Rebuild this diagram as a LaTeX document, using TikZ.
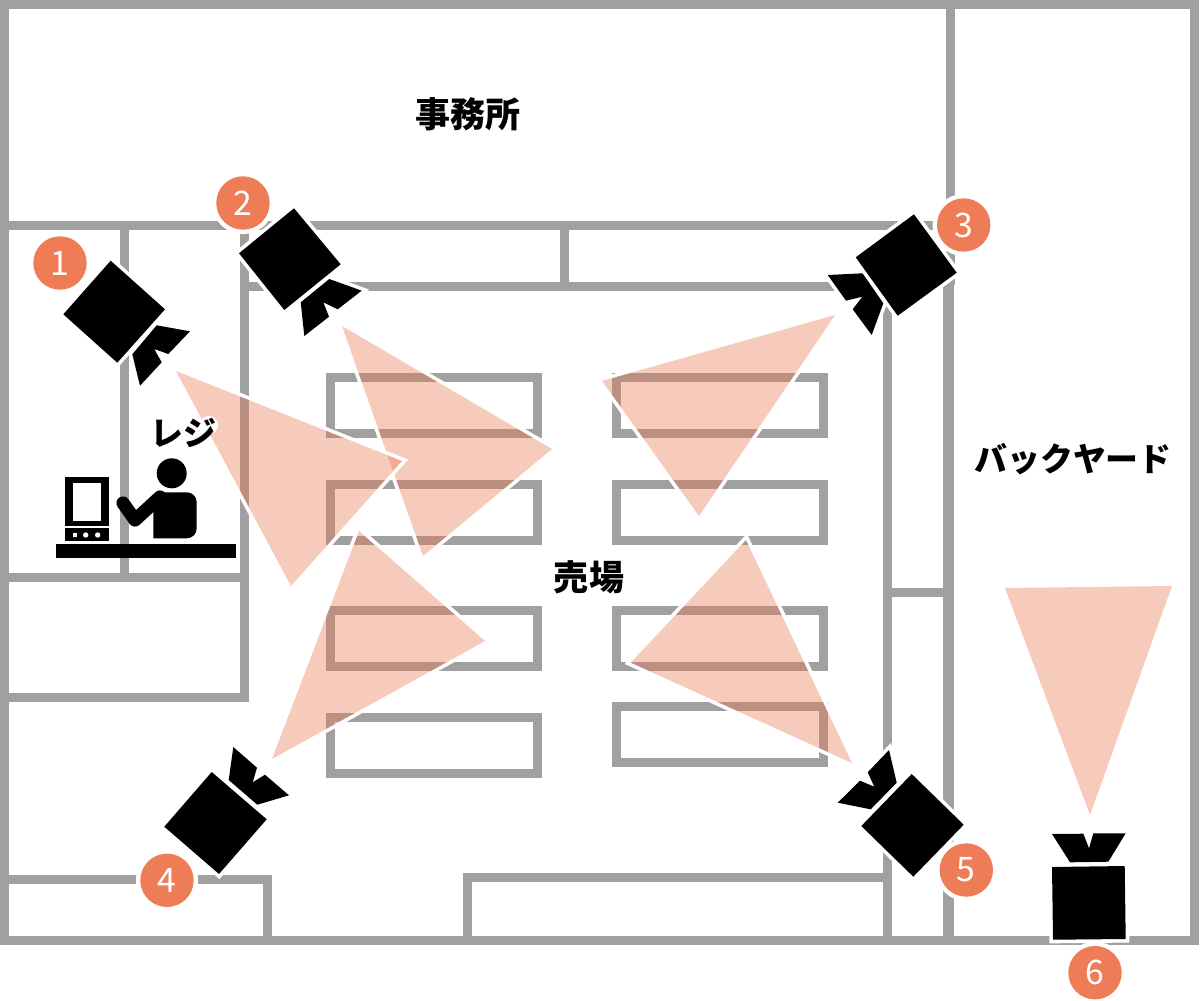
\documentclass[tikz,border=0pt]{standalone}
\usepackage{fontspec}
\usepackage{xcolor}
\newfontfamily\jpfont{Noto Sans CJK JP}
\usetikzlibrary{positioning}
\definecolor{WallGray}{HTML}{A0A0A0}
\definecolor{Badge}{HTML}{EE7D57}
\definecolor{Cone}{HTML}{EA764C}
\tikzset{
  wall/.style={line width=0.225cm, color=WallGray, line cap=rect},
  shelf/.style={line width=0.225cm, draw=WallGray},
  conehalo/.style={draw=white, line width=0.18cm, miter limit=10},
  cone/.style={fill=Cone, fill opacity=0.38},
  camera/.style={fill=black, preaction={draw=white, line width=0.18cm, miter limit=10}},
  ink/.style={fill=black},
  badge/.style={circle, fill=Badge, text=white, inner sep=0pt, minimum size=1.335cm,
    font=\jpfont\fontsize{24}{28}\selectfont, preaction={draw=white, line width=0.22cm}},
  place/.style={text=black, inner sep=0pt, font=\jpfont\bfseries\fontsize{24.9}{30}\selectfont},
  kana/.style={text=black, inner sep=0pt, font=\jpfont\bfseries\fontsize{23.4}{28}\selectfont},
}
% halo on the outside only, then the see-through fill
\newcommand{\viewcone}[3]{
  \begin{scope}[even odd rule]
    \clip (-50,-50) rectangle (1250,1050) #1 -- #2 -- #3 -- cycle;
    \draw[conehalo] #1 -- #2 -- #3 -- cycle;
  \end{scope}
  \fill[cone] #1 -- #2 -- #3 -- cycle;
}

\begin{document}
\begin{tikzpicture}[x=0.025cm, y=-0.025cm]
  \useasboundingbox (0,0) rectangle (1200,1000);

  % walls
  \draw[wall] (4,4) rectangle (1194.5,940.5);
  \draw[wall] (4,225.5) -- (950.5,225.5);
  \draw[wall] (950.5,4) -- (950.5,280);
  \draw[wall, line width=0.275cm] (948.5,289) -- (948.5,935);
  \draw[wall] (124.5,225.5) -- (124.5,577);
  \draw[wall] (244.7,225.5) -- (244.7,697.5);
  \draw[wall] (4,577) -- (244.7,577);
  \draw[wall] (4,697.5) -- (244.7,697.5);
  \draw[wall] (244.7,286) -- (887.5,286);
  \draw[wall] (564,225.5) -- (564,286);
  \draw[wall] (887.5,286) -- (887.5,940);
  \draw[wall] (887.5,592) -- (948.5,592);
  \draw[wall] (4,879.5) -- (267.5,879.5) -- (267.5,940);
  \draw[wall] (467.5,940) -- (467.5,877.5) -- (887.5,877.5);

  % shelves
  \draw[shelf] (330.5,377.5) rectangle (537.5,433.5);
  \draw[shelf] (330.5,484.5) rectangle (537.5,540.5);
  \draw[shelf] (330.5,610.5) rectangle (537.5,666.5);
  \draw[shelf] (330.5,717.5) rectangle (537.5,773.5);
  \draw[shelf] (616.5,377.5) rectangle (823.5,433.5);
  \draw[shelf] (616.5,484.5) rectangle (823.5,540.5);
  \draw[shelf] (616.5,610.5) rectangle (823.5,666.5);
  \draw[shelf] (616.5,706.5) rectangle (823.5,762.5);

  % view cones
  \viewcone{(342,326)}{(552,449)}{(423,556)}
  \viewcone{(176,371)}{(402,461)}{(291,586)}
  \viewcone{(835,315)}{(602,381)}{(699,516)}
  \viewcone{(359,531)}{(485,641)}{(272,759)}
  \viewcone{(746,540)}{(630.7,662.7)}{(852,763)}
  \viewcone{(1005,588)}{(1172,586)}{(1090,815)}

  % cameras
  \fill[camera] (156.7,325.3) -- (190,331.3) -- (168.3,354) -- (154.3,349) -- (161.7,362.3) -- (140,385.7) -- (132.3,354.3) -- cycle;
  \fill[camera] (110.7,260.7) -- (165,309.3) -- (117.3,362.7) -- (63.3,314.3) -- cycle;
  \fill[camera] (329.3,279) -- (361.7,290.7) -- (337.7,309.3) -- (323.3,302.3) -- (329,316.7) -- (304.3,336) -- (300.7,302.3) -- cycle;
  \fill[camera] (294,208.3) -- (340.7,264.3) -- (284.3,310) -- (239,253.3) -- cycle;
  \fill[camera] (862.7,273.3) -- (883.3,303.3) -- (871.7,335) -- (852.7,309.3) -- (862.3,296.7) -- (846,300.7) -- (827.7,275) -- cycle;
  \fill[camera] (914,214.3) -- (956.7,272.7) -- (897.7,315.7) -- (855.7,257.3) -- cycle;
  \fill[camera] (228.7,780) -- (233.3,747) -- (257,767.7) -- (252.7,782.3) -- (265,774.7) -- (289,795.3) -- (257.3,804.7) -- cycle;
  \fill[camera] (211.7,772) -- (266.7,819.3) -- (219,874) -- (164.3,826.7) -- cycle;
  \fill[camera] (896.7,782.7) -- (889,750) -- (867.7,772.3) -- (874.3,786.7) -- (860,780.7) -- (837.7,802.7) -- (870.7,809.3) -- cycle;
  \fill[camera] (911.7,774) -- (963.7,824.7) -- (913.3,876.7) -- (861.3,826) -- cycle;
  \fill[camera] (1070,862.3) -- (1108.3,861.7) -- (1125.7,833.3) -- (1093.3,833.3) -- (1089,848.3) -- (1083.3,833.7) -- (1052,834) -- cycle;
  \fill[camera] (1052,867) -- (1124.7,866) -- (1125.7,939) -- (1053,939.7) -- cycle;

  % badges
  \node[badge] (one) at (60,263) {1};
  \node[badge] (two) at (243,203) {2};
  \node[badge] (three) at (963.7,225) {3};
  \node[badge] (four) at (167,880.3) {4};
  \node[badge] (five) at (966.3,870) {5};
  \node[badge] (six) at (1095,972.7) {6};

  % till: counter, monitor, cashier
  \fill[ink] (56,544.3) rectangle (236,558.3);
  \fill[ink] (65.3,476.7) rectangle (109,526);
  \fill[white] (73,482.7) rectangle (101,520.7);
  \fill[ink] (65.3,528.3) rectangle (109,541.3);
  \fill[white] (73,533) rectangle (77,537);
  \fill[white] (85.7,535) circle (2.7);
  \fill[white] (97.7,535) circle (2.7);
  \fill[ink] (171.7,473.3) circle (15);
  \fill[ink, rounded corners=7pt] (153.3,538.3) -- (153.3,492.3) -- (196.7,492.3) -- (196.7,538.3) [sharp corners] -- cycle;
  \draw[black, line width=0.33cm, line cap=round, line join=round] (123,503) -- (135,520) -- (160,497);

  % labels
  \fill[white] (209,425) circle (9);
  \draw[white, line width=0.25cm, line cap=round] (209,425) -- (197,444);
  \node[place] (office) at (468,114) {事務所};
  \node[kana] (backyard) at (1073,459) {バックヤード};
  \node[place] (floor) at (589,577) {売場};
  \node[kana] (till) at (183,433) {レジ};
\end{tikzpicture}
\end{document}
